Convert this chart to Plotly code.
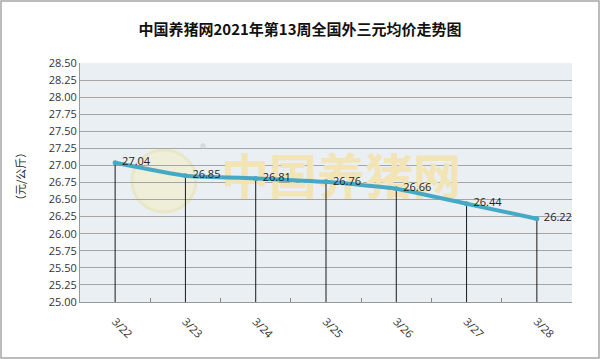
import plotly.graph_objects as go

dates = ["3/22", "3/23", "3/24", "3/25", "3/26", "3/27", "3/28"]
prices = [27.04, 26.85, 26.81, 26.76, 26.66, 26.44, 26.22]
y_min, y_max, y_step = 25.0, 28.5, 0.25

title = "中国养猪网2021年第13周全国外三元均价走势图"
y_title = "（元/公斤）"
watermark = "中国养猪网"

W, H = 600, 359
L, R, T, B = 80, 28, 63, 57
PW, PH = W - L - R, H - T - B

fig = go.Figure()

# watermark logo circle (decoration, behind everything)
fig.add_shape(type="circle", xref="paper", yref="paper",
              x0=(132 - L) / PW, x1=(196 - L) / PW,
              y0=(H - B - 212) / PH, y1=(H - B - 150) / PH,
              fillcolor="#F4F0C8", line=dict(color="#E8E4AE", width=3),
              opacity=0.6, layer="below")

# watermark text on a hidden base subplot, so the data sits above it
fig.add_trace(go.Scatter(
    x=[(341 - L) / PW, (203 - L) / PW], y=[(H - B - 182) / PH, (H - B - 150) / PH],
    mode="text", text=[f"<b>{watermark}</b>", "®"],
    textfont=dict(family="Noto Sans CJK SC", size=[48, 12], color=["#F2E4B4", "#C8C8C8"]),
    hoverinfo="skip", showlegend=False, xaxis="x", yaxis="y"))

# drop lines from each point to the axis floor
dx, dy = [], []
for d, p in zip(dates, prices):
    dx += [d, d, None]
    dy += [p, y_min, None]
fig.add_trace(go.Scatter(x=dx, y=dy, mode="lines",
                         line=dict(color="#1a1a1a", width=1),
                         hoverinfo="skip", showlegend=False, xaxis="x2", yaxis="y2"))

fig.add_trace(go.Scatter(
    x=dates, y=prices, mode="lines+markers+text",
    line=dict(color="#45A8C4", width=4, shape="spline", smoothing=0.4),
    marker=dict(size=5, color="#45A8C4"),
    text=[f"\u00a0{p:.2f}" for p in prices],
    textposition="middle right",
    textfont=dict(family="Open Sans, DejaVu Sans", size=11, color="#222222"),
    showlegend=False, xaxis="x2", yaxis="y2",
))

fig.add_annotation(text=y_title, x=(20 - L) / PW, y=(H - B - 177) / PH,
                   xref="paper", yref="paper", xanchor="center", yanchor="middle",
                   textangle=-90, showarrow=False,
                   font=dict(family="Noto Sans CJK SC", size=11, color="#222222"))

fig.update_layout(
    width=W, height=H,
    margin=dict(l=L, r=R, t=T, b=B),
    paper_bgcolor="white",
    plot_bgcolor="#E9EFF3",
    title=dict(text=f"<b>{title}</b>", x=0.5, xanchor="center", y=1 - 30 / H, yanchor="middle",
               font=dict(family="Noto Sans CJK SC", size=15, color="#111111")),
    font=dict(family="Open Sans, DejaVu Sans", size=11, color="#333333"),
    xaxis=dict(range=[0, 1], visible=False, fixedrange=True),
    yaxis=dict(range=[0, 1], visible=False, fixedrange=True),
    xaxis2=dict(type="category", range=[-0.5, 6.5], showgrid=False,
                overlaying="x", anchor="y2",
                ticks="inside", tickson="boundaries", ticklen=4, tickcolor="#888888",
                showline=True, linecolor="#999999", linewidth=1,
                tickangle=45, ticklabelstandoff=8,
                tickfont=dict(size=11, color="#333333"), fixedrange=True),
    yaxis2=dict(range=[y_min, y_max], dtick=y_step, tick0=y_min, tickformat=".2f",
                overlaying="y", anchor="x2", side="left",
                showgrid=True, gridcolor="#A5A5A5", gridwidth=1,
                showline=True, linecolor="#999999", zeroline=False,
                tickfont=dict(size=11, color="#333333"), ticks="", ticklen=0),
)
# outer border around the whole image
fig.add_shape(type="rect", xref="paper", yref="paper",
              x0=-(L - 1) / PW, x1=1 + (R - 1) / PW, y0=-(B - 1) / PH, y1=1 + (T - 1) / PH,
              line=dict(color="#A6A6A6", width=1.5), fillcolor="rgba(0,0,0,0)")

fig.write_html("out.html")
